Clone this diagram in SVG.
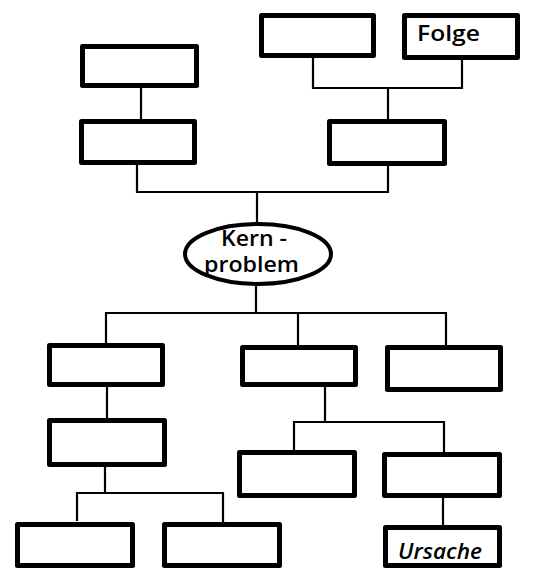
<svg xmlns="http://www.w3.org/2000/svg" width="536" height="571" viewBox="0 0 536 571">
<style>
.box{fill:#fff;stroke:#000;stroke-width:5;stroke-linejoin:round}
.ell{fill:#fff;stroke:#000;stroke-width:4}
.con{fill:none;stroke:#000;stroke-width:2.2;stroke-linecap:square}
.lbl{font-family:"Open Sans","Liberation Sans",sans-serif;font-size:21px;font-weight:600;fill:#000}
</style>
<rect width="536" height="571" fill="#fff"/>
<g id="connectors">
<path class="con" d="M141 88 V119"/>
<path class="con" d="M313 58 V88 H462 V60 M388 88 V119"/>
<path class="con" d="M137 165 V192 H388 V166 M257 192 V224"/>
<path class="con" d="M256 286 V313 M106 342 V313 H446 V345 M298 313 V345"/>
<path class="con" d="M107 387 V418"/>
<path class="con" d="M105 467 V493 M77 520 V493 H223 V522"/>
<path class="con" d="M325 387 V422 M294 450 V422 H444 V452"/>
<path class="con" d="M443 498 V525"/>
</g>
<g id="A1"><rect class="box" x="82.5" y="46.5" width="114" height="39"/></g>
<g id="A2"><rect class="box" x="81.5" y="121.5" width="113" height="41"/></g>
<g id="B1"><rect class="box" x="261.5" y="15.5" width="112" height="40"/></g>
<g id="B2"><rect class="box" x="404.5" y="15.5" width="113" height="42"/><text class="lbl" x="417" y="41" textLength="63" lengthAdjust="spacingAndGlyphs">Folge</text></g>
<g id="B3"><rect class="box" x="329.5" y="121.5" width="115" height="42"/></g>
<g id="core"><ellipse class="ell" cx="258" cy="254" rx="73" ry="30"/><text class="lbl" x="221" y="246" font-size="19" textLength="66" lengthAdjust="spacingAndGlyphs">Kern -</text><text class="lbl" x="204" y="272" font-size="19" textLength="95" lengthAdjust="spacingAndGlyphs">problem</text></g>
<g id="C1"><rect class="box" x="49.5" y="345.5" width="113" height="39"/></g>
<g id="C2"><rect class="box" x="242.5" y="347.5" width="113" height="37"/></g>
<g id="C3"><rect class="box" x="387.5" y="347.5" width="113" height="42"/></g>
<g id="D1"><rect class="box" x="49.5" y="420.5" width="115" height="44"/></g>
<g id="E1"><rect class="box" x="17.5" y="524.5" width="115" height="41"/></g>
<g id="E2"><rect class="box" x="164.5" y="524.5" width="115" height="41"/></g>
<g id="F1"><rect class="box" x="239.5" y="452.5" width="115" height="43"/></g>
<g id="F2"><rect class="box" x="384.5" y="454.5" width="115" height="41"/></g>
<g id="U"><rect class="box" x="385.5" y="527.5" width="114" height="38"/><text class="lbl" x="398" y="559" font-size="21" font-style="italic" textLength="84" lengthAdjust="spacingAndGlyphs">Ursache</text></g>
</svg>
